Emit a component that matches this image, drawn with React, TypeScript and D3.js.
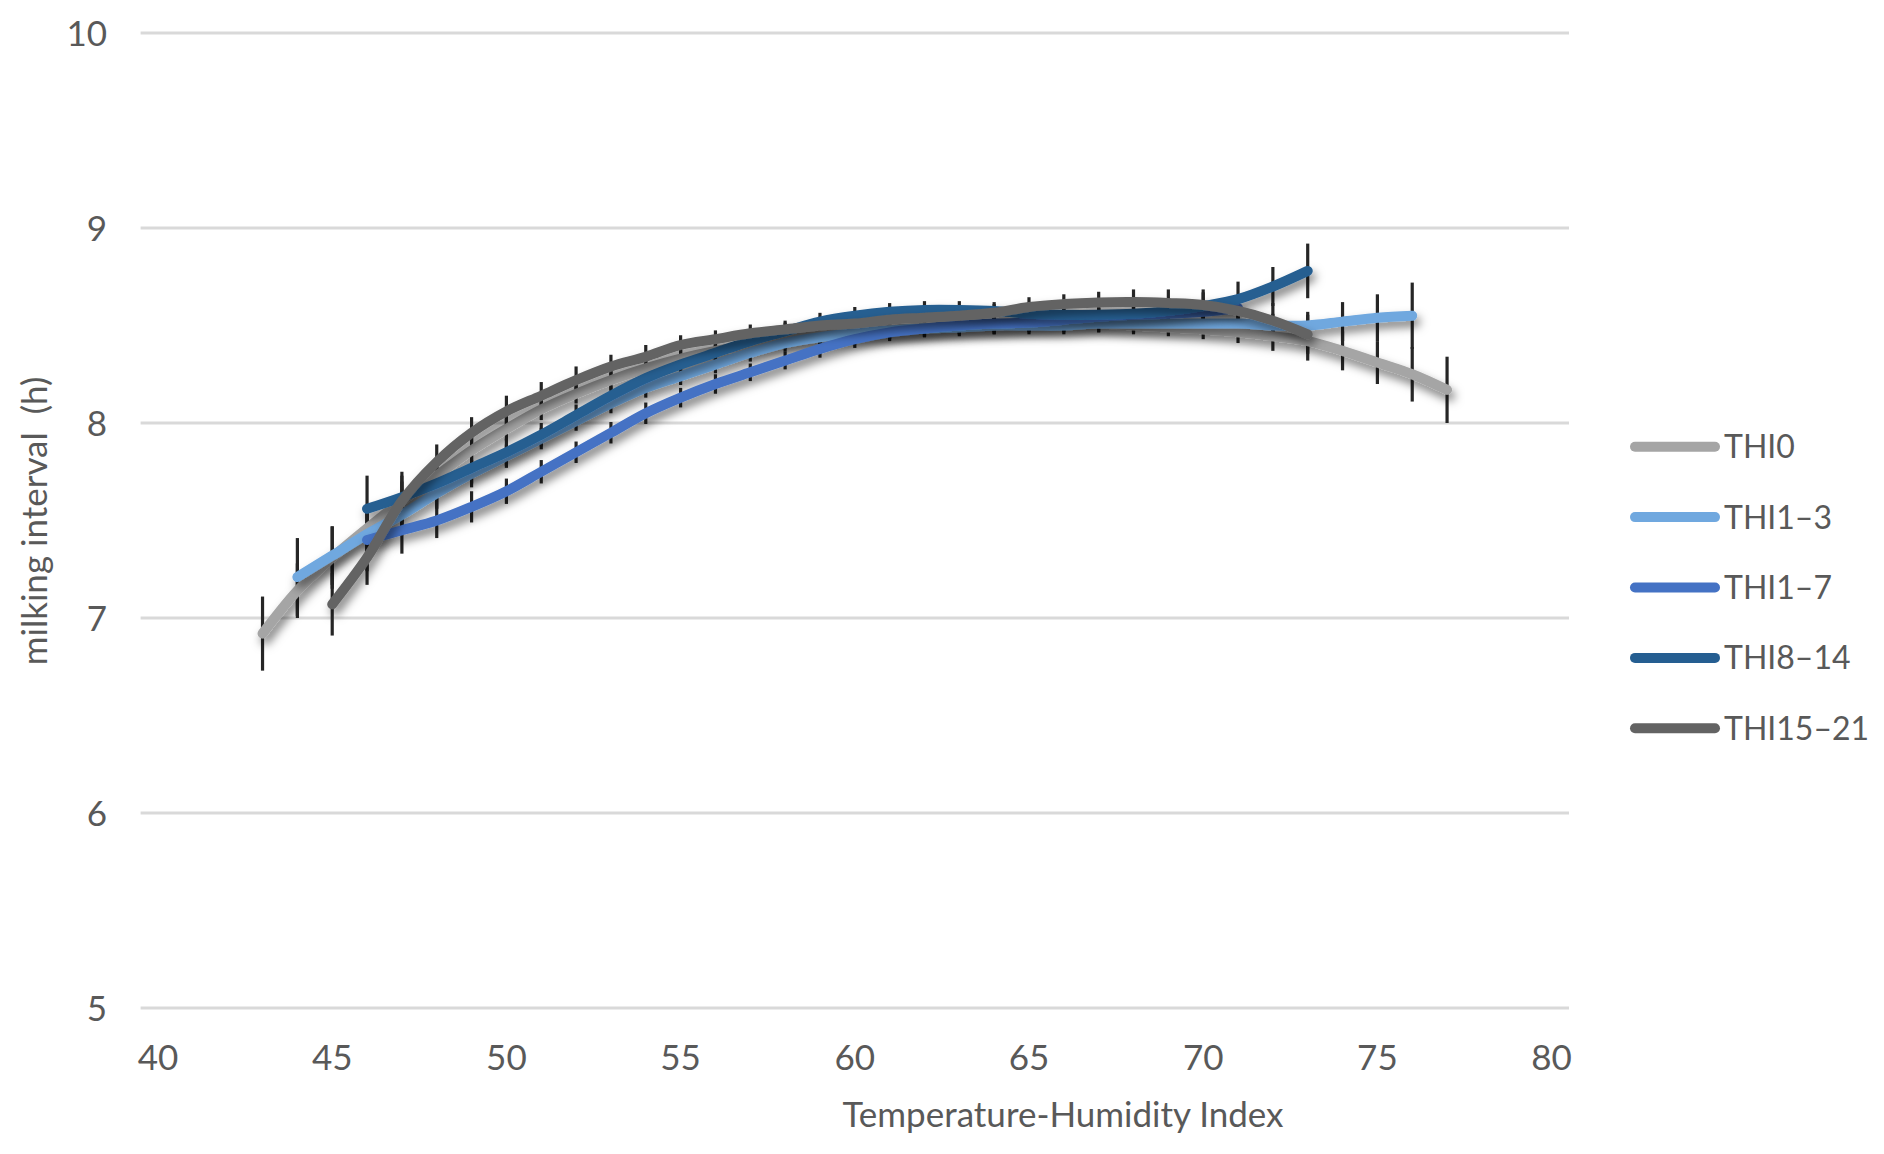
import React from "react";
import * as d3 from "d3";

// ---------- data ----------
const categories: number[] = d3.range(40, 81); // THI 40..80 (category axis)
const xTickLabels: number[] = [40, 45, 50, 55, 60, 65, 70, 75, 80];
const yTickLabels: number[] = [5, 6, 7, 8, 9, 10];

const seriesNames = ["THI0", "THI1\u20133", "THI1\u20137", "THI8\u201314", "THI15\u201321"];
const seriesColors = ["#A5A5A5", "#70A8DF", "#4472C4", "#255E91", "#636363"];

const thi0Start = 43;
const thi0Values = [6.92, 7.14, 7.31, 7.46, 7.6, 7.73, 7.86, 7.97, 8.07, 8.15, 8.22, 8.28, 8.33, 8.37, 8.4, 8.43, 8.45, 8.47, 8.48, 8.49, 8.5, 8.5, 8.51, 8.51, 8.51, 8.5, 8.49, 8.48, 8.465, 8.445, 8.42, 8.37, 8.31, 8.25, 8.17];
const thi0Errors = [0.19, 0.14, 0.16, 0.12, 0.1, 0.08, 0.07, 0.06, 0.055, 0.05, 0.05, 0.05, 0.045, 0.045, 0.045, 0.045, 0.045, 0.045, 0.045, 0.045, 0.045, 0.045, 0.045, 0.045, 0.045, 0.045, 0.045, 0.05, 0.055, 0.075, 0.1, 0.1, 0.11, 0.14, 0.17];

const thi13Start = 44;
const thi13Values = [7.21, 7.32, 7.43, 7.53, 7.64, 7.74, 7.83, 7.92, 8.01, 8.1, 8.18, 8.24, 8.3, 8.36, 8.41, 8.44, 8.46, 8.475, 8.485, 8.49, 8.5, 8.5, 8.5, 8.51, 8.51, 8.51, 8.51, 8.51, 8.5, 8.5, 8.52, 8.54, 8.55];
const thi13Errors = [0.2, 0.15, 0.12, 0.1, 0.08, 0.07, 0.06, 0.055, 0.05, 0.05, 0.05, 0.045, 0.045, 0.045, 0.045, 0.045, 0.045, 0.045, 0.045, 0.045, 0.045, 0.045, 0.045, 0.045, 0.045, 0.045, 0.045, 0.05, 0.06, 0.07, 0.1, 0.12, 0.17];

const thi17Start = 46;
const thi17Values = [7.4, 7.45, 7.5, 7.57, 7.65, 7.75, 7.85, 7.95, 8.05, 8.13, 8.2, 8.26, 8.32, 8.38, 8.43, 8.465, 8.485, 8.5, 8.51, 8.515, 8.53, 8.545, 8.555, 8.56, 8.57, 8.59];
const thi17Errors = [0.16, 0.12, 0.09, 0.08, 0.065, 0.06, 0.055, 0.055, 0.055, 0.05, 0.05, 0.045, 0.045, 0.045, 0.045, 0.045, 0.045, 0.045, 0.045, 0.045, 0.045, 0.045, 0.045, 0.045, 0.045, 0.05];

const thi814Start = 46;
const thi814Values = [7.56, 7.62, 7.69, 7.77, 7.85, 7.94, 8.04, 8.14, 8.23, 8.3, 8.36, 8.42, 8.47, 8.52, 8.55, 8.57, 8.58, 8.58, 8.575, 8.56, 8.555, 8.555, 8.56, 8.575, 8.6, 8.635, 8.7, 8.78];
const thi814Errors = [0.17, 0.13, 0.1, 0.08, 0.07, 0.06, 0.055, 0.05, 0.05, 0.045, 0.045, 0.045, 0.045, 0.045, 0.045, 0.045, 0.045, 0.045, 0.045, 0.045, 0.045, 0.045, 0.05, 0.06, 0.07, 0.09, 0.1, 0.14];

const thi1521Start = 45;
const thi1521Values = [7.07, 7.31, 7.6, 7.8, 7.95, 8.06, 8.14, 8.22, 8.29, 8.34, 8.4, 8.43, 8.46, 8.48, 8.5, 8.51, 8.53, 8.54, 8.55, 8.565, 8.595, 8.61, 8.618, 8.62, 8.615, 8.605, 8.575, 8.525, 8.455];
const thi1521Errors = [0.16, 0.14, 0.13, 0.09, 0.08, 0.08, 0.07, 0.07, 0.06, 0.06, 0.05, 0.045, 0.045, 0.045, 0.045, 0.045, 0.045, 0.045, 0.045, 0.045, 0.05, 0.05, 0.055, 0.065, 0.07, 0.08, 0.08, 0.09, 0.1];

const seriesStarts = [thi0Start, thi13Start, thi17Start, thi814Start, thi1521Start];
const seriesValues = [thi0Values, thi13Values, thi17Values, thi814Values, thi1521Values];
const seriesErrors = [thi0Errors, thi13Errors, thi17Errors, thi814Errors, thi1521Errors];

const xTitle = "Temperature-Humidity Index";
const yTitle = "milking interval\u00a0 (h)";

// ---------- layout ----------
const W = 1884;
const H = 1154;
const plotLeft = 140.6;
const plotRight = 1569;
const plotTop = 33;
const plotBottom = 1008;
const FONT = "Lato, 'Open Sans', sans-serif";
const TEXT = "#595959";

export default function App() {
  const x = d3
    .scaleBand<number>()
    .domain(categories)
    .range([plotLeft, plotRight])
    .paddingInner(0)
    .paddingOuter(0);
  const cx = (v: number) => (x(v) as number) + x.bandwidth() / 2;
  const y = d3.scaleLinear().domain([5, 10]).range([plotBottom, plotTop]);

  const series = seriesNames.map((name, i) => ({
    name,
    color: seriesColors[i],
    points: seriesValues[i].map((v, j) => ({
      t: seriesStarts[i] + j,
      v,
      e: seriesErrors[i][j],
    })),
  }));

  const line = d3
    .line<{ t: number; v: number }>()
    .x((d) => cx(d.t))
    .y((d) => y(d.v))
    .curve(d3.curveCatmullRom.alpha(0.5));

  return (
    <svg
      width={W}
      height={H}
      style={{ position: "absolute", left: 0, top: 0, background: "#fff" }}
      fontFamily={FONT}
    >
      <defs>
        <filter
          id="shadow"
          filterUnits="userSpaceOnUse"
          x={0}
          y={0}
          width={W}
          height={H}
        >
          <feDropShadow dx={3} dy={6} stdDeviation={5} floodColor="#000" floodOpacity={0.5} />
        </filter>
      </defs>
      <rect x={0} y={0} width={W} height={H} fill="#fff" />

      {/* gridlines */}
      {yTickLabels.map((t) => (
        <line
          key={"g" + t}
          x1={plotLeft}
          x2={plotRight}
          y1={y(t)}
          y2={y(t)}
          stroke="#D9D9D9"
          strokeWidth={3}
        />
      ))}

      {/* y tick labels */}
      {yTickLabels.map((t) => (
        <text
          key={"yl" + t}
          x={107}
          y={y(t)}
          dy="0.36em"
          textAnchor="end"
          fontSize={35}
          fill={TEXT}
        >
          {t}
        </text>
      ))}

      {/* x tick labels */}
      {xTickLabels.map((t) => (
        <text
          key={"xl" + t}
          x={cx(t)}
          y={1057}
          dy="0.36em"
          textAnchor="middle"
          fontSize={35}
          fill={TEXT}
        >
          {t}
        </text>
      ))}

      {/* axis titles */}
      <text x={1063} y={1127} textAnchor="middle" fontSize={35} fill={TEXT}>
        {xTitle}
      </text>
      <text
        transform={`translate(47, 521) rotate(-90)`}
        textAnchor="middle"
        fontSize={35}
        fill={TEXT}
      >
        {yTitle}
      </text>

      {/* error bars (beneath all lines) */}
      {series.map((s) => (
        <g key={"eb" + s.name}>
          {s.points.map((p) => (
            <line
              key={p.t}
              x1={cx(p.t)}
              x2={cx(p.t)}
              y1={y(p.v + p.e)}
              y2={y(p.v - p.e)}
              stroke="#262626"
              strokeWidth={3.2}
            />
          ))}
        </g>
      ))}

      {/* lines */}
      {series.map((s) => (
        <path
          key={"ln" + s.name}
          d={line(s.points) || ""}
          fill="none"
          stroke={s.color}
          strokeWidth={10}
          strokeLinecap="round"
          strokeLinejoin="round"
          filter="url(#shadow)"
        />
      ))}

      {/* legend */}
      {series.map((s, i) => {
        const ly = 446.7 + i * 70.4;
        return (
          <g key={"lg" + s.name}>
            <line
              x1={1635}
              x2={1715}
              y1={ly}
              y2={ly}
              stroke={s.color}
              strokeWidth={10}
              strokeLinecap="round"
            />
            <text x={1724} y={ly} dy="0.36em" fontSize={32} fill={TEXT}>
              {s.name}
            </text>
          </g>
        );
      })}
    </svg>
  );
}
